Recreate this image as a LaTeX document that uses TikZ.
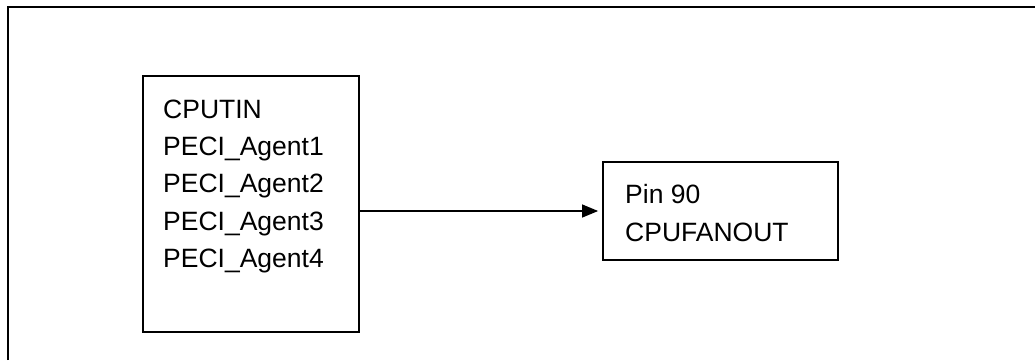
\documentclass[tikz,border=0pt]{standalone}
\usepackage{fontspec}
\setmainfont{Liberation Sans}
\usetikzlibrary{arrows.meta}

\tikzset{
  pinbox/.style={draw, line width=1.8pt, inner sep=0pt},
  pinlbl/.style={anchor=base west, inner sep=0pt, font=\fontsize{26.5}{37}\selectfont},
}

\begin{document}
\begin{tikzpicture}[x=1pt, y=-1pt]
    \useasboundingbox (0,0) rectangle (1035,360);

    % outer frame
    \draw[line width=2pt] (7.5,360) -- (7.5,7) -- (1035,7);

    % temperature sources
    \node[pinbox, minimum width=216pt, minimum height=256pt] (src) at (251,204) {};
    \foreach \t [count=\i] in {CPUTIN, PECI\_Agent1, PECI\_Agent2, PECI\_Agent3, PECI\_Agent4}
        \node[pinlbl] (src\i) at (163,{118+37.4*(\i-1)}) {\t};

    % fan output
    \node[pinbox, minimum width=235pt, minimum height=98pt] (fan) at (720.5,211) {};
    \node[pinlbl] (fan1) at (625,203) {Pin 90};
    \node[pinlbl] (fan2) at (625,241) {CPUFANOUT};

    \draw[-{Triangle[length=16pt,width=13pt]}, line width=1.3pt, shorten >=4pt]
        (fan.west -| src.east) -- (fan.west);
\end{tikzpicture}
\end{document}
